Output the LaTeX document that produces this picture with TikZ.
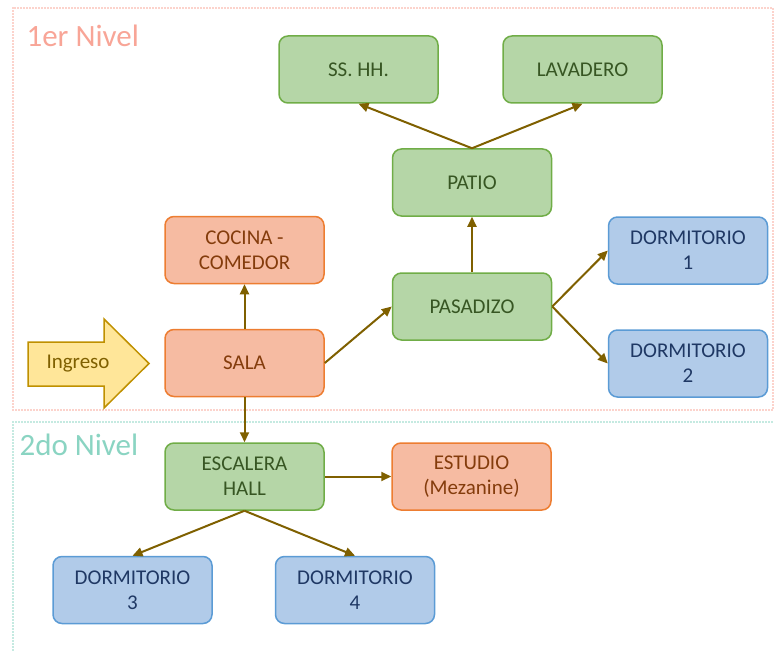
\documentclass[tikz,border=0pt]{standalone}
\usepackage{fontspec}
\setmainfont{Carlito}
\usetikzlibrary{arrows.meta}
\definecolor{greenfill}{HTML}{B5D6A7}
\definecolor{greenline}{HTML}{70AD47}
\definecolor{greentext}{HTML}{375623}
\definecolor{orangefill}{HTML}{F6BBA2}
\definecolor{orangeline}{HTML}{ED7D31}
\definecolor{orangetext}{HTML}{843C0C}
\definecolor{bluefill}{HTML}{B1CBE9}
\definecolor{blueline}{HTML}{5B9BD5}
\definecolor{bluetext}{HTML}{1F3864}
\definecolor{yellowfill}{HTML}{FFE699}
\definecolor{yellowline}{HTML}{BF9000}
\definecolor{yellowtext}{HTML}{7F6000}
\definecolor{linkcolor}{HTML}{7F6000}
\definecolor{nivelone}{HTML}{F8A597}
\definecolor{niveltwo}{HTML}{8AD4C2}
\begin{document}
\begin{tikzpicture}[x=1pt,y=-1pt,
	room/.style={draw,rounded corners=9pt,line width=1.5pt,minimum width=159pt,minimum height=67pt,align=center,font=\fontsize{21}{25}\selectfont},
	verde/.style={room,fill=greenfill,draw=greenline,text=greentext},
	naranja/.style={room,fill=orangefill,draw=orangeline,text=orangetext},
	azul/.style={room,fill=bluefill,draw=blueline,text=bluetext},
	link/.style={draw=linkcolor,line width=2pt,-{Triangle[length=10pt,width=9pt]}},
	nivel/.style={line width=1.8pt,line cap=round,dash pattern=on 0pt off 3pt}]
			\useasboundingbox (0,0) rectangle (775,652);
			\draw[nivel,draw=nivelone] (13,8) rectangle (773,410);
			\draw[nivel,draw=niveltwo] (13,653) -- (13,422) -- (773,422);
			\node[anchor=west,text=nivelone,font=\fontsize{31}{36}\selectfont] (n1) at (23,36) {1er Nivel};
			\node[anchor=west,text=niveltwo,font=\fontsize{31}{36}\selectfont] (n2) at (16,445) {2do Nivel};
			\draw[fill=yellowfill,draw=yellowline,line width=1.5pt,line join=miter] (28,342) -- (104,342) -- (104,319) -- (149,363.5) -- (104,408) -- (104,386) -- (28,386) -- cycle;
			\node[text=yellowtext,font=\fontsize{21}{25}\selectfont] (ingreso) at (78,364) {Ingreso};
			\node[verde] (sshh) at (358.5,69.5) {SS. HH.};
			\node[verde] (lavadero) at (582.5,69.5) {LAVADERO};
			\node[verde] (patio) at (472,182.5) {PATIO};
			\node[verde] (pasadizo) at (472,306.5) {PASADIZO};
			\node[azul] (dorm1) at (688,250.5) {DORMITORIO\\1};
			\node[azul] (dorm2) at (688,363.5) {DORMITORIO\\2};
			\node[naranja] (cocina) at (244.5,250) {COCINA -\\COMEDOR};
			\node[naranja] (sala) at (244.5,363) {SALA};
			\node[verde] (escalera) at (244.5,476.5) {ESCALERA\\HALL};
			\node[naranja] (estudio) at (471.5,476.5) {ESTUDIO\\(Mezanine)};
			\node[azul] (dorm3) at (132.5,590) {DORMITORIO\\3};
			\node[azul] (dorm4) at (355,590) {DORMITORIO\\4};
			\draw[link] (patio.north) -- (sshh.south);
			\draw[link] (patio.north) -- (lavadero.south);
			\draw[link] (pasadizo) -- (patio);
			\draw[link] (pasadizo.east) -- (dorm1.west);
			\draw[link] (pasadizo.east) -- (dorm2.west);
			\draw[link] (sala.east) -- (pasadizo.west);
			\draw[link] (sala) -- (cocina);
			\draw[link] (sala) -- (escalera);
			\draw[link] (escalera) -- (estudio);
			\draw[link] (escalera.south) -- (dorm3.north);
			\draw[link] (escalera.south) -- (dorm4.north);
\end{tikzpicture}
\end{document}
